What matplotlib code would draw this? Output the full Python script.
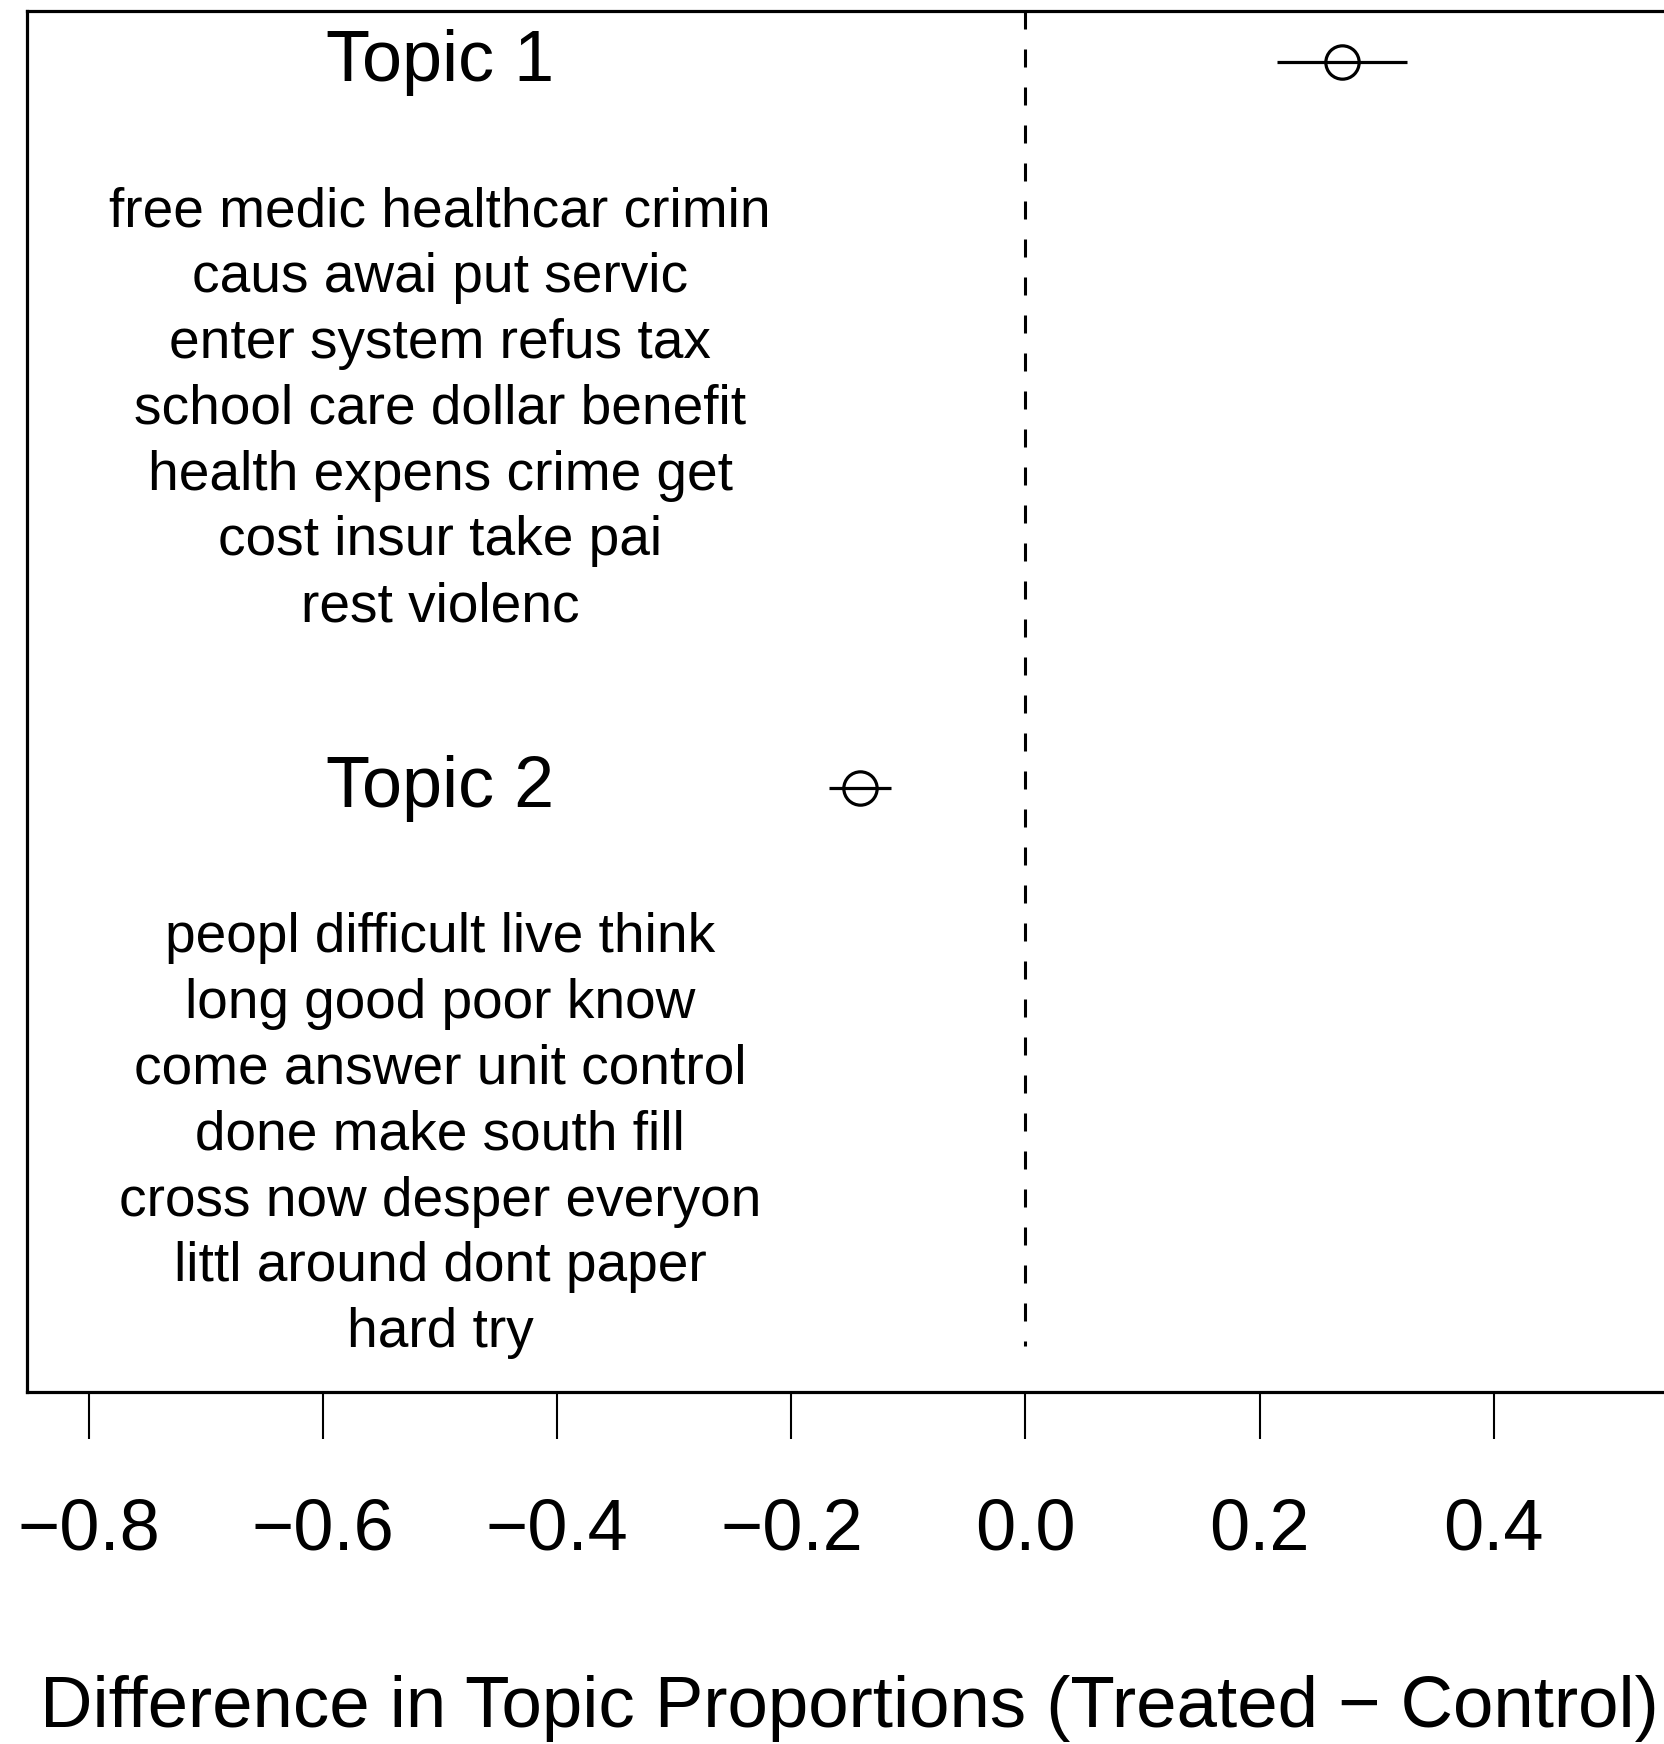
import matplotlib
matplotlib.use("Agg")
import matplotlib.pyplot as plt

plt.rcParams['font.family'] = ['Liberation Sans', 'DejaVu Sans']

topics = ["Topic 1", "Topic 2"]
estimates = [0.270, -0.1415]
ci_lower = [0.215, -0.168]
ci_upper = [0.326, -0.115]
topic_words = [
    ["free medic healthcar crimin", "caus awai put servic", "enter system refus tax",
     "school care dollar benefit", "health expens crime get", "cost insur take pai",
     "rest violenc"],
    ["peopl difficult live think", "long good poor know", "come answer unit control",
     "done make south fill", "cross now desper everyon", "littl around dont paper",
     "hard try"],
]
xticks = [-0.8, -0.6, -0.4, -0.2, 0.0, 0.2, 0.4]
xlabel = "Difference in Topic Proportions (Treated \u2212 Control)"

W, H = 1665, 1744
fig = plt.figure(figsize=(W / 100, H / 100), dpi=100)
ax = fig.add_axes([27 / W, (H - 1392) / H, (2024 - 27) / W, (1392 - 11) / H])
ax.set_xlim(-0.853, 0.853)
ax.set_ylim(1.832, -0.070)

label_x = -0.5
for i, (t, est, lo, hi, words) in enumerate(zip(topics, estimates, ci_lower, ci_upper, topic_words)):
    ax.plot([lo, hi], [i, i], color='black', lw=2.3, solid_capstyle='butt', zorder=3)
    ax.plot([est], [i], marker='o', markersize=24, markerfacecolor='none',
            markeredgecolor='black', markeredgewidth=2.3, zorder=4)
    ax.text(label_x, i + 0.001, t, ha='center', va='center', fontsize=51.8)
    for j, w in enumerate(words):
        ax.text(label_x, i + 0.207 + j * 0.0907, w, ha='center', va='center', fontsize=39.6)

lw_d = 2.2
ax.plot([0, 0], [-0.070, 1.769], color='black', lw=lw_d,
        linestyle=(0, (18 / lw_d * 0.72, 20 / lw_d * 0.72)), zorder=2)

ax.set_yticks([])
ax.set_xticks(xticks)
ax.set_xticklabels([f"{v:.1f}".replace("-", "\u2212") for v in xticks], fontsize=52)
ax.tick_params(axis='x', direction='out', length=34, width=1.5, pad=42)
for s in ax.spines.values():
    s.set_linewidth(2.3)

fig.text((1657 + 42) / W / 2, (H - 1708) / H, xlabel, ha='center', va='center', fontsize=52.3)

fig.savefig("out.png", dpi=100, facecolor='white')
